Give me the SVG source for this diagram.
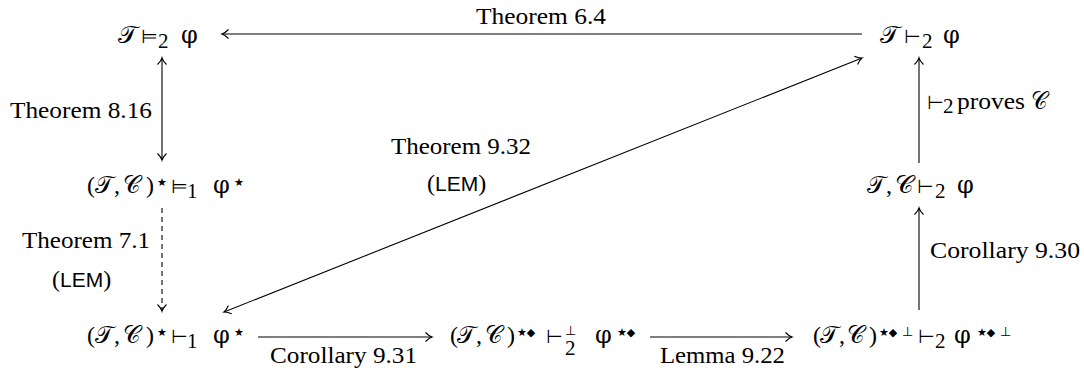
<svg xmlns="http://www.w3.org/2000/svg" width="1084" height="374" viewBox="0 0 1084 374">
<defs>
<style>
.lbl{font-family:"Liberation Serif","DejaVu Serif",serif;font-size:24px;fill:#000}
.sf{font-family:"Liberation Sans","DejaVu Sans",sans-serif;font-size:21px;fill:#000}
.m{font-family:"Liberation Serif","DejaVu Serif","DejaVu Sans",serif;font-size:24px;fill:#000}
.f{font-family:"DejaVu Serif",serif;font-size:24px;fill:#000}
.r{font-family:"DejaVu Sans",sans-serif;font-size:19px;fill:#000}
.s{font-family:"Liberation Serif",serif;font-size:21px;fill:#000}
.p{font-family:"DejaVu Sans",sans-serif;font-size:11px;fill:#000}
.q{font-family:"DejaVu Sans",sans-serif;font-size:13px;fill:#000}
.e{fill:none;stroke:#000;stroke-width:1.1}
.d{stroke-dasharray:5 4}
</style>
<marker id="ah" markerUnits="userSpaceOnUse" markerWidth="12" markerHeight="12" viewBox="-8 -6 10 12" refX="0" refY="0" orient="auto-start-reverse" overflow="visible">
<path d="M-6.5,-4.5 C-4,-2 -1.5,-0.4 0,0 C-1.5,0.4 -4,2 -6.5,4.5" fill="none" stroke="#000" stroke-width="1.1"/>
</marker>
</defs>
<rect width="1084" height="374" fill="#fff"/>
<g id="connectors">
<line class="e" x1="862" y1="34" x2="222" y2="34" marker-end="url(#ah)"/>
<line class="e" x1="162" y1="58" x2="162" y2="160" marker-start="url(#ah)" marker-end="url(#ah)"/>
<line class="e d" x1="162" y1="208" x2="162" y2="311" marker-end="url(#ah)"/>
<line class="e" x1="224" y1="312" x2="862" y2="58" marker-start="url(#ah)" marker-end="url(#ah)"/>
<line class="e" x1="258" y1="337" x2="432" y2="337" marker-end="url(#ah)"/>
<line class="e" x1="650" y1="337" x2="792" y2="337" marker-end="url(#ah)"/>
<line class="e" x1="919" y1="310" x2="919" y2="208" marker-end="url(#ah)"/>
<line class="e" x1="919" y1="163" x2="919" y2="58" marker-end="url(#ah)"/>
<text class="lbl" x="476" y="24" textLength="130" lengthAdjust="spacingAndGlyphs">Theorem 6.4</text>
<text class="lbl" x="10" y="118" textLength="142" lengthAdjust="spacingAndGlyphs">Theorem 8.16</text>
<text class="lbl" x="22" y="248" textLength="128" lengthAdjust="spacingAndGlyphs">Theorem 7.1</text>
<text class="lbl" x="52" y="287"><tspan>(</tspan><tspan class="sf">LEM</tspan><tspan>)</tspan></text>
<text class="lbl" x="391" y="154" textLength="140" lengthAdjust="spacingAndGlyphs">Theorem 9.32</text>
<text class="lbl" x="427" y="191"><tspan>(</tspan><tspan class="sf">LEM</tspan><tspan>)</tspan></text>
<text class="r" x="927" y="109" font-size="17">⊢</text>
<text class="s" x="943" y="113" font-size="15">2</text>
<text class="lbl" x="957" y="109" textLength="68" lengthAdjust="spacingAndGlyphs">proves</text>
<text class="m" x="1031" y="109" textLength="17" lengthAdjust="spacingAndGlyphs">𝒞</text>
<text class="lbl" x="930" y="258" textLength="150" lengthAdjust="spacingAndGlyphs">Corollary 9.30</text>
<text class="lbl" x="270" y="363" textLength="147" lengthAdjust="spacingAndGlyphs">Corollary 9.31</text>
<text class="lbl" x="660" y="363" textLength="125" lengthAdjust="spacingAndGlyphs">Lemma 9.22</text>
</g>
<g id="n1">
<text class="m" x="118" y="43" textLength="19" lengthAdjust="spacingAndGlyphs">𝒯</text>
<text class="r" x="141" y="43">⊨</text>
<text class="s" x="158" y="48">2</text>
<text class="f" x="181" y="43">φ</text>
</g>
<g id="n2">
<text class="m" x="880" y="43" textLength="19" lengthAdjust="spacingAndGlyphs">𝒯</text>
<text class="r" x="904" y="43">⊢</text>
<text class="s" x="922" y="48">2</text>
<text class="f" x="943" y="43">φ</text>
</g>
<g id="n3">
<text class="m" x="87" y="193">(</text>
<text class="m" x="95" y="193" textLength="18" lengthAdjust="spacingAndGlyphs">𝒯</text>
<text class="m" x="114" y="193">,</text>
<text class="m" x="123" y="193" textLength="18" lengthAdjust="spacingAndGlyphs">𝒞</text>
<text class="m" x="146" y="193">)</text>
<text class="p" x="157" y="186">★</text>
<text class="r" x="171" y="193">⊨</text>
<text class="s" x="187" y="198">1</text>
<text class="f" x="213" y="193">φ</text>
<text class="p" x="234" y="186">★</text>
</g>
<g id="n7">
<text class="m" x="867" y="193" textLength="18" lengthAdjust="spacingAndGlyphs">𝒯</text>
<text class="m" x="886" y="193">,</text>
<text class="m" x="895" y="193" textLength="19" lengthAdjust="spacingAndGlyphs">𝒞</text>
<text class="r" x="917" y="193">⊢</text>
<text class="s" x="935" y="198">2</text>
<text class="f" x="957" y="193">φ</text>
</g>
<g id="n4">
<text class="m" x="87" y="343">(</text>
<text class="m" x="95" y="343" textLength="18" lengthAdjust="spacingAndGlyphs">𝒯</text>
<text class="m" x="114" y="343">,</text>
<text class="m" x="123" y="343" textLength="18" lengthAdjust="spacingAndGlyphs">𝒞</text>
<text class="m" x="146" y="343">)</text>
<text class="p" x="157" y="336">★</text>
<text class="r" x="171" y="343">⊢</text>
<text class="s" x="187" y="348">1</text>
<text class="f" x="213" y="343">φ</text>
<text class="p" x="234" y="336">★</text>
</g>
<g id="n5">
<text class="m" x="450" y="343">(</text>
<text class="m" x="457" y="343" textLength="18" lengthAdjust="spacingAndGlyphs">𝒯</text>
<text class="m" x="476" y="343">,</text>
<text class="m" x="485" y="343" textLength="18" lengthAdjust="spacingAndGlyphs">𝒞</text>
<text class="m" x="507" y="343">)</text>
<text class="p" x="517" y="336">★◆</text>
<text class="r" x="546" y="343">⊢</text>
<text class="q" x="565" y="335">⊥</text>
<text class="s" x="565" y="355">2</text>
<text class="f" x="595" y="343">φ</text>
<text class="p" x="617" y="336">★◆</text>
</g>
<g id="n6">
<text class="m" x="813" y="343">(</text>
<text class="m" x="820" y="343" textLength="18" lengthAdjust="spacingAndGlyphs">𝒯</text>
<text class="m" x="839" y="343">,</text>
<text class="m" x="847" y="343" textLength="18" lengthAdjust="spacingAndGlyphs">𝒞</text>
<text class="m" x="869" y="343">)</text>
<text class="p" x="879" y="336">★◆</text>
<text class="q" x="902" y="336">⊥</text>
<text class="r" x="918" y="343">⊢</text>
<text class="s" x="935" y="348">2</text>
<text class="f" x="954" y="343">φ</text>
<text class="p" x="977" y="336">★◆</text>
<text class="q" x="1000" y="336">⊥</text>
</g>
</svg>
